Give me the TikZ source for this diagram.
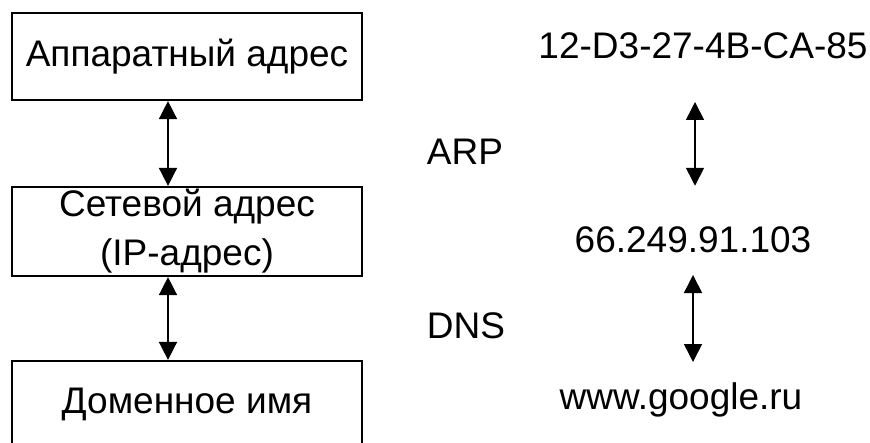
\documentclass[tikz,border=0pt]{standalone}
\usepackage{fontspec}
\setmainfont{Liberation Sans}
\usepackage{tikz}
\usetikzlibrary{arrows.meta, calc, positioning}

\begin{document}
\begin{tikzpicture}[x=0.5pt, y=-0.5pt,
        font=\fontsize{18.5}{24.5}\selectfont,
        addrbox/.style={draw, line width=1.1pt, minimum width=175pt, align=center, inner sep=0pt},
        lbl/.style={anchor=base, inner sep=0pt},
        arr/.style={line width=0.8pt, {Triangle[length=9pt,width=9pt]}-{Triangle[length=9pt,width=9pt]}}]
        \useasboundingbox (0,0) rectangle (870,443);
        \clip (0,0) rectangle (870,443);

        % left column: boxes
        \node[addrbox, minimum height=43.5pt] (hw) at (187,56.5) {Аппаратный адрес};
        \node[addrbox, minimum height=44.5pt] (net) at (187,231.5) {Сетевой адрес\\(IP-адрес)};
        \node[addrbox, minimum height=43.5pt] (dom) at (187,404.5) {Доменное имя};

        \coordinate (lc) at (168,0);
        \draw[arr] (hw.south -| lc) -- (net.north -| lc);
        \draw[arr] (net.south -| lc) -- (dom.north -| lc);

        % right column: example values
        \node[lbl] (mac) at (703,59) {12-D3-27-4B-CA-85};
        \node[lbl] (ip) at (693,252) {66.249.91.103};
        \node[lbl] (www) at (681,409) {www.google.ru};

        \node[lbl] (arp) at (465,164) {ARP};
        \node[lbl] (dns) at (466,338) {DNS};

        \coordinate (rc1) at (695,0);
        \coordinate (rc2) at (693,0);
        \draw[arr] ($(mac.base -| rc1)+(0,43)$) -- ($(ip.north -| rc1)+(0,-40)$);
        \draw[arr] ($(ip.base -| rc2)+(0,23)$) -- ($(www.base -| rc2)+(0,-47)$);
    \end{tikzpicture}
\end{document}
